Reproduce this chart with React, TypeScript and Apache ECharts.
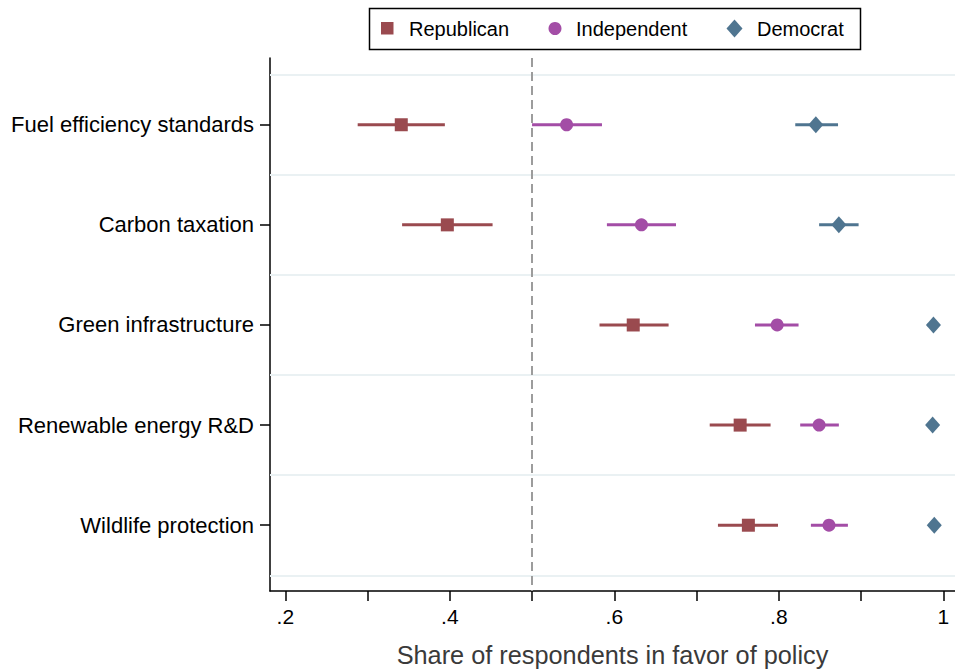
import React, { useEffect, useRef } from "react";
import * as echarts from "echarts";

const categories = [
  "Fuel efficiency standards",
  "Carbon taxation",
  "Green infrastructure",
  "Renewable energy R&D",
  "Wildlife protection",
];
const categoryPos = [1, 2, 3, 4, 5];
const gridPos = [0.5, 1.5, 2.5, 3.5, 4.5, 5.5];

const repMean = [0.341, 0.397, 0.623, 0.753, 0.763];
const repLo = [0.288, 0.342, 0.582, 0.716, 0.726];
const repHi = [0.394, 0.452, 0.666, 0.79, 0.799];

const indMean = [0.542, 0.633, 0.798, 0.849, 0.861];
const indLo = [0.5, 0.591, 0.771, 0.826, 0.839];
const indHi = [0.585, 0.675, 0.824, 0.873, 0.884];

const demMean = [0.845, 0.873, 0.988, 0.987, 0.989];
const demLo = [0.82, 0.849, 0.981, 0.98, 0.982];
const demHi = [0.872, 0.897, 0.994, 0.993, 0.995];

const xTicks = [0.2, 0.3, 0.4, 0.5, 0.6, 0.7, 0.8, 0.9, 1.0];
const xLabels = [0.2, 0.4, 0.6, 0.8, 1.0];
const threshold = 0.5;

const FONT = "'Liberation Sans', Arial, Helvetica, sans-serif";
const C_REP = "#9a4a4f";
const C_IND = "#a34da6";
const C_DEM = "#4f7590";

function ciSeries(name: string, lo: number[], hi: number[], color: string) {
  return {
    name: name + " CI",
    type: "custom",
    z: 3,
    silent: true,
    encode: { x: [0, 1], y: 2 },
    data: lo.map((l, i) => [l, hi[i], categoryPos[i]]),
    renderItem: (params: any, api: any) => {
      const y = api.value(2);
      const p1 = api.coord([api.value(0), y]);
      const p2 = api.coord([api.value(1), y]);
      return {
        type: "line",
        shape: { x1: p1[0], y1: p1[1], x2: p2[0], y2: p2[1] },
        style: { stroke: color, lineWidth: 3 },
      };
    },
  };
}

function pointSeries(name: string, mean: number[], color: string, symbol: string, size: any) {
  return {
    name,
    type: "scatter",
    z: 4,
    symbol,
    symbolSize: size,
    itemStyle: { color, opacity: 1 },
    data: mean.map((m, i) => [m, categoryPos[i]]),
  };
}

export default function App() {
  const ref = useRef<HTMLDivElement>(null);
  useEffect(() => {
    if (!ref.current) return;
    const chart = echarts.init(ref.current, undefined, { renderer: "svg" });
    const fmtX = (v: number) => {
      const s = (Math.round(v * 10) / 10).toString();
      return s.startsWith("0.") ? s.slice(1) : s;
    };
    const option: any = {
      animation: false,
      backgroundColor: "#ffffff",
      textStyle: { fontFamily: FONT },
      grid: { left: 270, right: 0, top: 58, bottom: 79, containLabel: false },
      xAxis: {
        type: "value",
        min: 0.1814,
        max: 1.0142,
        axisLine: { show: true, lineStyle: { color: "#000", width: 1.5 } },
        axisTick: {
          show: true,
          customValues: xTicks,
          length: 10,
          lineStyle: { color: "#000", width: 1.5 },
        },
        axisLabel: {
          customValues: xLabels,
          formatter: fmtX,
          color: "#000",
          fontSize: 21,
          fontFamily: FONT,
          margin: 15,
        },
        splitLine: { show: false },
        name: "Share of respondents in favor of policy",
        nameLocation: "middle",
        nameGap: 51,
        nameTextStyle: { color: "#3a3a3a", fontSize: 25.3, fontFamily: FONT },
      },
      yAxis: {
        type: "value",
        inverse: true,
        min: 0.3333,
        max: 5.657,
        axisLine: { show: true, onZero: false, lineStyle: { color: "#000", width: 1.5 } },
        axisTick: {
          show: true,
          customValues: categoryPos,
          length: 10,
          lineStyle: { color: "#000", width: 1.5 },
        },
        axisLabel: {
          customValues: categoryPos,
          formatter: (v: number) => categories[Math.round(v) - 1] ?? "",
          color: "#000",
          fontSize: 22,
          fontFamily: FONT,
          margin: 16,
        },
        splitLine: { show: false },
      },
      series: [
        {
          name: "guides",
          type: "scatter",
          data: [],
          z: 1,
          silent: true,
          markLine: {
            silent: true,
            symbol: "none",
            animation: false,
            label: { show: false },
            data: [
              ...gridPos.map((g) => ({
                yAxis: g,
                lineStyle: { color: "#eaf1f3", width: 2, type: "solid" },
              })),
              {
                xAxis: threshold,
                lineStyle: { color: "#9c9c9c", width: 2, type: [9, 5] },
              },
            ],
          },
        },
        ciSeries("Republican", repLo, repHi, C_REP),
        ciSeries("Independent", indLo, indHi, C_IND),
        ciSeries("Democrat", demLo, demHi, C_DEM),
        pointSeries("Republican", repMean, C_REP, "rect", 13),
        pointSeries("Independent", indMean, C_IND, "circle", 13),
        pointSeries("Democrat", demMean, C_DEM, "diamond", [15, 17]),
      ],
      graphic: [
        {
          type: "rect",
          silent: true,
          shape: { x: 369.5, y: 8.5, width: 491, height: 41 },
          style: { fill: "#fff", stroke: "#000", lineWidth: 1.5 },
        },
        {
          type: "rect",
          silent: true,
          shape: { x: 381, y: 22, width: 12.5, height: 12.5 },
          style: { fill: C_REP },
        },
        {
          type: "text",
          silent: true,
          x: 409,
          y: 29,
          style: {
            text: "Republican",
            fill: "#000",
            fontSize: 20,
            fontFamily: FONT,
            verticalAlign: "middle",
            align: "left",
          },
        },
        {
          type: "circle",
          silent: true,
          shape: { cx: 555, cy: 28.5, r: 6.5 },
          style: { fill: C_IND },
        },
        {
          type: "text",
          silent: true,
          x: 576,
          y: 29,
          style: {
            text: "Independent",
            fill: "#000",
            fontSize: 20,
            fontFamily: FONT,
            verticalAlign: "middle",
            align: "left",
          },
        },
        {
          type: "polygon",
          silent: true,
          shape: {
            points: [
              [734.5, 19.5],
              [742.5, 28.5],
              [734.5, 37.5],
              [726.5, 28.5],
            ],
          },
          style: { fill: C_DEM },
        },
        {
          type: "text",
          silent: true,
          x: 757,
          y: 29,
          style: {
            text: "Democrat",
            fill: "#000",
            fontSize: 20,
            fontFamily: FONT,
            verticalAlign: "middle",
            align: "left",
          },
        },
      ],
    };
    chart.setOption(option);
    return () => chart.dispose();
  }, []);
  return (
    <div
      ref={ref}
      style={{ position: "fixed", left: 0, top: 0, width: 955, height: 672, background: "#fff" }}
    />
  );
}
